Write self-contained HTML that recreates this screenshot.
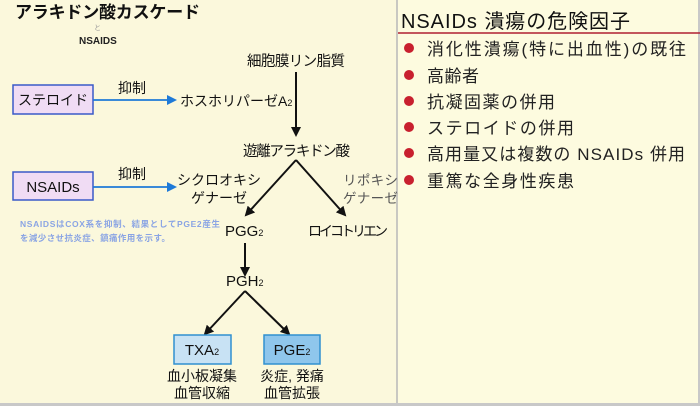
<!DOCTYPE html>
<html><head><meta charset="utf-8"><style>
body{margin:0;width:700px;height:406px;overflow:hidden;background:#c8c8c8;}
svg{display:block}
text{font-family:"Liberation Sans","Noto Sans CJK JP",sans-serif;}
</style></head><body>
<svg width="700" height="406" viewBox="0 0 700 406" xmlns="http://www.w3.org/2000/svg">
<defs>
<marker id="bk" markerWidth="10" markerHeight="10" refX="8" refY="5" orient="auto" markerUnits="userSpaceOnUse"><path d="M0,0 L10,5 L0,10 Z" fill="#111"/></marker>
<marker id="bl" markerWidth="10" markerHeight="10" refX="8" refY="5" orient="auto" markerUnits="userSpaceOnUse"><path d="M0,0 L10,5 L0,10 Z" fill="#1e7ad8"/></marker>
</defs>
<rect x="0" y="0" width="698" height="403" fill="#fdfbdf"/>
<rect x="0" y="0" width="397" height="403" fill="#fbf8dc"/>
<line x1="397" y1="0" x2="397" y2="403" stroke="#b8b8b8" stroke-width="1.5"/>
<!-- left -->
<text x="15" y="18" font-size="17" font-weight="bold" fill="#111" textLength="185">アラキドン酸カスケード</text>
<text x="94" y="30" font-size="7" fill="#999">と</text>
<text x="79" y="44" font-size="10" font-weight="bold" fill="#222">NSAIDS</text>
<text x="247" y="66" font-size="14.5" fill="#111" textLength="98">細胞膜リン脂質</text>
<line x1="296" y1="72" x2="296" y2="135" stroke="#111" stroke-width="2" marker-end="url(#bk)"/>
<text x="243" y="156" font-size="14.5" fill="#111" textLength="107">遊離アラキドン酸</text>
<rect x="13" y="85" width="80" height="29" fill="#f0dcf4" stroke="#3a5ac8" stroke-width="1.5"/>
<text x="53" y="105" font-size="14" text-anchor="middle" fill="#111">ステロイド</text>
<text x="118" y="93" font-size="14" fill="#111">抑制</text>
<line x1="93" y1="100" x2="175" y2="100" stroke="#1e7ad8" stroke-width="1.8" marker-end="url(#bl)"/>
<text x="180" y="106" font-size="14" fill="#111">ホスホリパーゼA<tspan font-size="9">2</tspan></text>
<rect x="13" y="172" width="80" height="28" fill="#f0dcf4" stroke="#3a5ac8" stroke-width="1.5"/>
<text x="53" y="192" font-size="15" text-anchor="middle" fill="#111">NSAIDs</text>
<text x="118" y="179" font-size="14" fill="#111">抑制</text>
<line x1="93" y1="187" x2="175" y2="187" stroke="#1e7ad8" stroke-width="1.8" marker-end="url(#bl)"/>
<text x="219" y="185" font-size="14" text-anchor="middle" fill="#111">シクロオキシ</text>
<text x="219" y="203" font-size="14" text-anchor="middle" fill="#111">ゲナーゼ</text>
<text x="343" y="185" font-size="13.5" fill="#555" textLength="55">リポキシ</text>
<text x="343" y="203" font-size="13.5" fill="#555" textLength="55">ゲナーゼ</text>
<line x1="296" y1="160" x2="246" y2="215" stroke="#111" stroke-width="2" marker-end="url(#bk)"/>
<line x1="296" y1="160" x2="345" y2="215" stroke="#111" stroke-width="2" marker-end="url(#bk)"/>
<text x="20" y="227" font-size="8.5" font-weight="bold" fill="#8aa4e4" textLength="200">NSAIDSはCOX系を抑制、結果としてPGE2産生</text>
<text x="20" y="241" font-size="8.5" font-weight="bold" fill="#8aa4e4" textLength="150">を減少させ抗炎症、鎮痛作用を示す。</text>
<text x="225" y="236" font-size="15" fill="#111">PGG<tspan font-size="9">2</tspan></text>
<text x="308" y="236" font-size="14" fill="#111" textLength="80">ロイコトリエン</text>
<line x1="245" y1="243" x2="245" y2="275" stroke="#111" stroke-width="2" marker-end="url(#bk)"/>
<text x="226" y="286" font-size="15" fill="#111">PGH<tspan font-size="9">2</tspan></text>
<line x1="245" y1="291" x2="205" y2="334" stroke="#111" stroke-width="2" marker-end="url(#bk)"/>
<line x1="245" y1="291" x2="289" y2="334" stroke="#111" stroke-width="2" marker-end="url(#bk)"/>
<rect x="174" y="335" width="57" height="29" fill="#c8e2f4" stroke="#3090d0" stroke-width="1.5"/>
<text x="202" y="355" font-size="15" text-anchor="middle" fill="#111">TXA<tspan font-size="9">2</tspan></text>
<rect x="264" y="335" width="56" height="29" fill="#8fc6ec" stroke="#3090d0" stroke-width="1.5"/>
<text x="292" y="355" font-size="15" text-anchor="middle" fill="#111">PGE<tspan font-size="9">2</tspan></text>
<text x="202" y="381" font-size="14" text-anchor="middle" fill="#111">血小板凝集</text>
<text x="202" y="398" font-size="14" text-anchor="middle" fill="#111">血管収縮</text>
<text x="292" y="381" font-size="14" text-anchor="middle" fill="#111">炎症, 発痛</text>
<text x="292" y="398" font-size="14" text-anchor="middle" fill="#111">血管拡張</text>
<!-- right -->
<text x="401" y="28" font-size="20" fill="#111" textLength="229">NSAIDs 潰瘍の危険因子</text>
<line x1="398" y1="33" x2="700" y2="33" stroke="#b02030" stroke-width="1.5"/>
<g fill="#c8202e">
<circle cx="409" cy="48" r="5"/><circle cx="409" cy="75" r="5"/><circle cx="409" cy="101" r="5"/>
<circle cx="409" cy="127" r="5"/><circle cx="409" cy="153" r="5"/><circle cx="409" cy="180" r="5"/>
</g>
<g font-size="17" fill="#222">
<text x="427" y="55" textLength="259">消化性潰瘍(特に出血性)の既往</text>
<text x="427" y="82" textLength="52">高齢者</text>
<text x="427" y="108" textLength="128">抗凝固薬の併用</text>
<text x="427" y="134" textLength="147">ステロイドの併用</text>
<text x="427" y="160" textLength="258">高用量又は複数の NSAIDs 併用</text>
<text x="427" y="187" textLength="147">重篤な全身性疾患</text>
</g>
</svg>
</body></html>
